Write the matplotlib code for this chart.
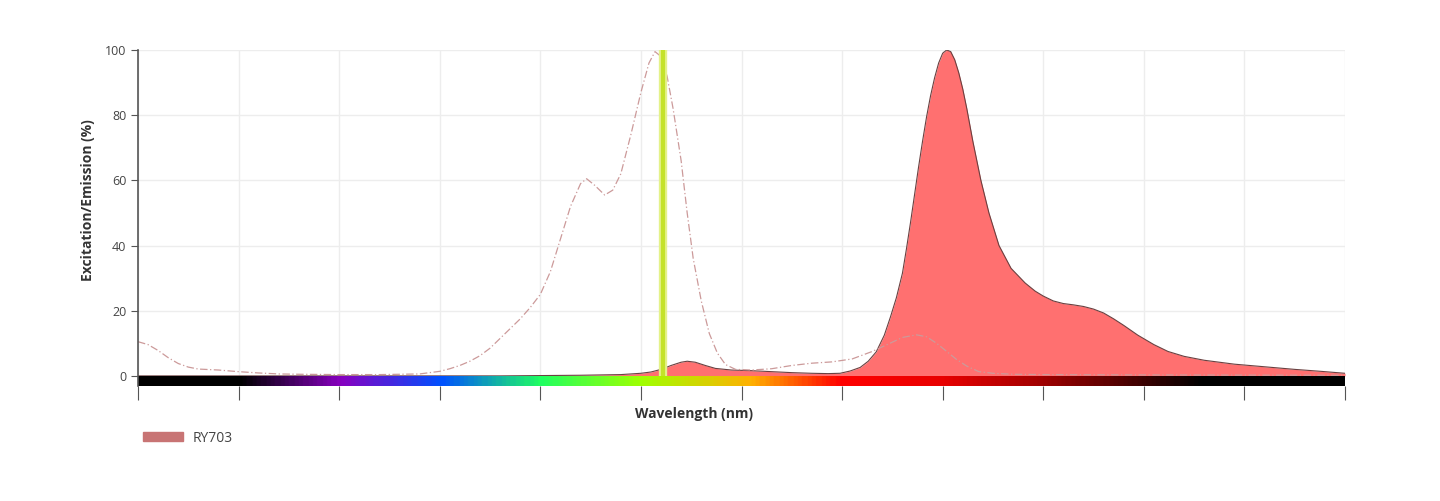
import numpy as np
import matplotlib.pyplot as plt
from matplotlib.colors import LinearSegmentedColormap
from matplotlib.patches import Patch

plt.rcParams['font.family'] = ['Open Sans', 'DejaVu Sans']

# excitation spectrum (nm, %)
ex_nm = [300, 305, 310, 315, 320, 325, 330, 340, 350, 360, 370, 380, 400, 420, 440, 445,
         450, 455, 460, 465, 470, 475, 480, 485, 490, 495, 500, 505, 510, 515, 520, 523,
         527, 532, 536, 540, 545, 550, 554, 557, 560, 563, 566, 570, 573, 576, 580, 584,
         588, 592, 597, 605, 615, 625, 635, 645, 655, 665, 672, 680, 687, 692, 697, 702,
         707, 712, 718, 725, 735, 750, 800, 900]
ex_val = [10.5, 9.6, 7.8, 5.6, 3.8, 2.7, 2.1, 1.8, 1.3, 0.9, 0.6, 0.5, 0.4, 0.4, 0.6, 1.0,
          1.4, 2.2, 3.2, 4.5, 6.2, 8.5, 11.5, 14.5, 17.5, 21, 25, 32, 42, 52, 59, 60.5,
          58.5, 55.5, 57, 62, 74, 87, 96, 99.5, 98, 92, 82, 66, 50, 36, 23, 13,
          7, 3.5, 2.0, 1.8, 2.2, 3.2, 3.9, 4.3, 5.2, 7.5, 9.5, 11.8, 12.6, 12, 10, 7.5,
          5, 3, 1.3, 0.8, 0.5, 0.4, 0.3, 0.2]

# emission spectrum (nm, %)
em_nm = [300, 480, 500, 520, 540, 545, 550, 555, 560, 565, 570, 573, 577, 582, 587, 595,
         605, 615, 625, 635, 643, 649, 654, 659, 663, 667, 671, 674, 677, 680, 682, 684,
         686, 688, 690, 692, 694, 696, 698, 700, 702, 704, 706, 708, 710, 712, 715, 719,
         723, 728, 734, 741, 746, 750, 755, 760, 765, 770, 775, 780, 785, 790, 797, 805,
         812, 820, 830, 845, 860, 875, 888, 900]
em_val = [0, 0, 0.1, 0.2, 0.4, 0.6, 0.8, 1.2, 2.0, 3.2, 4.2, 4.5, 4.2, 3.2, 2.3, 1.8,
          1.6, 1.3, 1.0, 0.8, 0.7, 0.8, 1.5, 2.6, 4.5, 7.4, 12.5, 18, 24, 31.5, 39, 47,
          55.5, 64, 72, 79.5, 86, 91.5, 96, 99, 100, 99.5, 97, 93, 88, 82, 72, 60,
          50, 40, 33, 28.5, 26, 24.5, 23, 22.2, 21.8, 21.3, 20.5, 19.3, 17.5, 15.5, 12.5, 9.6,
          7.5, 6, 4.8, 3.6, 2.8, 2, 1.4, 0.8]

laser_nm = 561
dye_name = 'RY703'

# visible spectrum bar
spec_nm = [300, 350, 400, 450, 500, 550, 605, 650, 700, 750, 830, 900]
spec_col = ['#000000', '#000000', '#8800c0', '#0050ff', '#20ff60', '#a0ff00', '#ffb000',
            '#ff0000', '#e80000', '#a00000', '#000000', '#000000']

fig = plt.figure(figsize=(14.4, 5.01), dpi=100)
ax = fig.add_axes([138/1440, 1-386/501, 1207/1440, 336/501])

ax.set_xlim(300, 900)
ax.set_ylim(-3.1, 100)

ax.set_xticks(np.arange(300, 901, 50))
ax.set_yticks([0, 20, 40, 60, 80, 100])
ax.grid(True, color='#ededed', linewidth=1)
ax.set_axisbelow(True)

ax.fill_between(em_nm, em_val, color='#ff7070', linewidth=0, zorder=2)
ax.plot(em_nm, em_val, color='#6a4040', linewidth=0.8, zorder=3)
ax.plot(ex_nm, ex_val, color='#cc9a9a', linewidth=0.9, dashes=(6, 2, 1, 2), zorder=4)

ax.axvline(laser_nm, color='#e4f28a', linewidth=6, zorder=5)
ax.axvline(laser_nm, color='#c4e22a', linewidth=3, zorder=6)

pos = [(n - 300) / 600 for n in spec_nm]
cmap = LinearSegmentedColormap.from_list('spec', list(zip(pos, spec_col)))
grad = np.linspace(0, 1, 600).reshape(1, -1)
ax.imshow(grad, cmap=cmap, aspect='auto', extent=[300, 900, -3.1, -0.3], zorder=7)

for s in ['top', 'right', 'bottom']:
    ax.spines[s].set_visible(False)
ax.spines['left'].set_color('#555555')
ax.spines['left'].set_linewidth(1.2)
ax.spines['left'].set_zorder(8)

ax.tick_params(axis='y', length=5, color='#555555', labelsize=9, labelcolor='#444444')
ax.tick_params(axis='x', length=10, color='#555555', labelbottom=False)

ax.set_ylabel('Excitation/Emission (%)', fontsize=10, fontweight='bold', color='#333333')
ax.yaxis.set_label_coords(-0.036, 0.553)
ax.set_xlabel('Wavelength (nm)', fontsize=10, fontweight='bold', color='#333333')
ax.xaxis.set_label_coords(0.461, -0.062)

fig.legend(handles=[Patch(color='#c87474', label=dye_name)], loc='center left',
           bbox_to_anchor=(143/1440, 1-438/501), frameon=False, borderpad=0,
           borderaxespad=0, handlelength=2.9, handleheight=0.6, handletextpad=0.7,
           fontsize=10, labelcolor='#444444')

fig.savefig('out.png', dpi=100)
